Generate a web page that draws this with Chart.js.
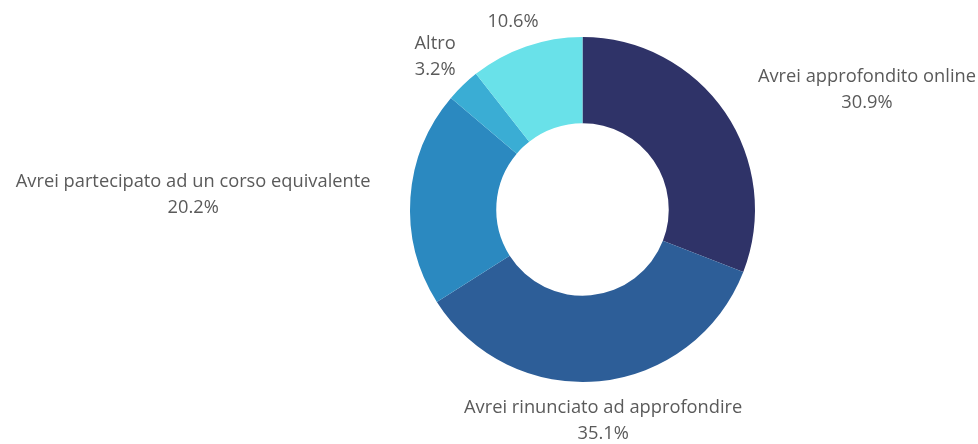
<!DOCTYPE html>
<html lang="it">
<head>
  <meta charset="UTF-8">
  <script src="https://cdn.jsdelivr.net/npm/chart.js@4.4.0/dist/chart.umd.min.js"></script>
  <title>Doughnut</title>
  <style>
    html, body { margin: 0; padding: 0; background: #fff; }
    .chartContainer { position: relative; width: 978px; height: 444px; }
  </style>
</head>
<body>
  <div class="chartContainer">
    <canvas id="myChart"></canvas>
  </div>

<script>
  // dati
  var categories = [
    'Avrei approfondito online',
    'Avrei rinunciato ad approfondire',
    'Avrei partecipato ad un corso equivalente',
    'Altro',
    ''
  ];
  var percentages = [30.9, 35.1, 20.2, 3.2, 10.6];
  var sliceColors = ['#2f3368', '#2d5e98', '#2b89c0', '#3aadd4', '#69e1e9'];

  /* etichette esterne: nome + percentuale, righe centrate nel blocco */
  var outerLabels = {
    id: 'outerLabels',
    afterDatasetsDraw(chart) {
      var ctx = chart.ctx;
      var meta = chart.getDatasetMeta(0);
      var lineH = 26;
      ctx.save();
      ctx.font = '18.3px "Open Sans"';
      ctx.fillStyle = '#5a5a5a';
      ctx.textBaseline = 'middle';
      ctx.textAlign = 'center';
      meta.data.forEach(function (arc, i) {
        var mid = (arc.startAngle + arc.endAngle) / 2;
        var r = arc.outerRadius + 40;
        var c = Math.cos(mid), s = Math.sin(mid);
        var px = arc.x + r * c;
        var py = arc.y + r * s;
        var lines = [categories[i], percentages[i].toFixed(1) + '%'];
        var w = 0;
        lines.forEach(function (t) { w = Math.max(w, ctx.measureText(t).width); });
        var cx = px;
        if (Math.abs(c) > 0.75) cx = c > 0 ? px + w / 2 : px - w / 2;
        var top = py - (lines.length - 1) * lineH / 2;
        lines.forEach(function (t, k) {
          if (t) ctx.fillText(t, cx, top + k * lineH);
        });
      });
      ctx.restore();
    }
  };

  var ctx = document.getElementById('myChart').getContext('2d');
  var myChart = new Chart(ctx, {
    type: 'doughnut',
    data: {
      labels: categories,
      datasets: [{
        data: percentages,
        backgroundColor: sliceColors,
        borderWidth: 0
      }]
    },
    options: {
      responsive: true,
      maintainAspectRatio: false,
      animation: false,
      cutout: '50%',
      layout: {
        padding: { top: 37, bottom: 62, left: 310, right: 123 }
      },
      plugins: {
        legend: { display: false },
        tooltip: { enabled: false }
      }
    },
    plugins: [outerLabels]
  });
</script>
</body>
</html>
